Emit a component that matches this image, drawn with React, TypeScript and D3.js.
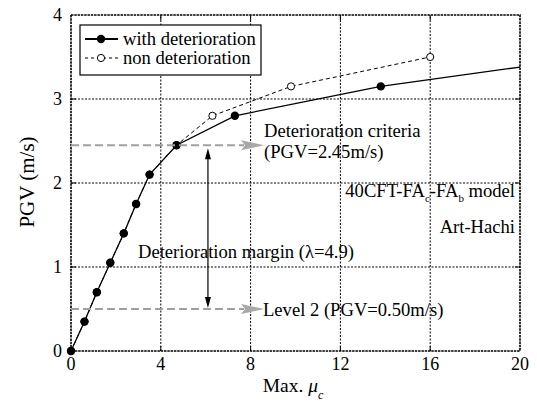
import React from "react";
import * as d3 from "d3";

// Max. ductility (mu_c) vs PGV, with and without deterioration
const muWith = [0, 0.6, 1.15, 1.75, 2.35, 2.9, 3.5, 4.7, 7.3, 13.8];
const pgvWith = [0, 0.35, 0.7, 1.05, 1.4, 1.75, 2.1, 2.45, 2.8, 3.15];
// the solid curve continues beyond the last marker to the frame edge
const muWithTail = [20];
const pgvWithTail = [3.38];

const muNon = [0, 0.6, 1.15, 1.75, 2.35, 2.9, 3.5, 4.7, 6.3, 9.8, 16.0];
const pgvNon = [0, 0.35, 0.7, 1.05, 1.4, 1.75, 2.1, 2.45, 2.8, 3.15, 3.5];

const xTicks = [0, 4, 8, 12, 16, 20];
const yTicks = [0, 1, 2, 3, 4];

const criteriaPgv = 2.45;
const level2Pgv = 0.5;
const marginMu = 6.1;
const lambda = 4.9;
const arrowEndMu = 8.6;

const W = 537;
const H = 410;
const FONT = "Liberation Serif, Times New Roman, Tinos, DejaVu Serif, serif";
const FS = 18.6;

export default function App() {
  const x = d3.scaleLinear().domain([0, 20]).range([71, 520]);
  const y = d3.scaleLinear().domain([0, 4]).range([351, 15]);

  const withPts: [number, number][] = muWith.map((m, i) => [m, pgvWith[i]]);
  const withLinePts: [number, number][] = withPts.concat(
    muWithTail.map((m, i) => [m, pgvWithTail[i]] as [number, number])
  );
  const nonPts: [number, number][] = muNon.map((m, i) => [m, pgvNon[i]]);

  const line = d3
    .line<[number, number]>()
    .x((d) => x(d[0]))
    .y((d) => y(d[1]));

  const grayArrow = (pgv: number) => {
    const yy = y(pgv);
    const x0 = x(0);
    const tip = x(arrowEndMu);
    return (
      <g>
        <line
          x1={x0}
          y1={yy}
          x2={tip - 20}
          y2={yy}
          stroke="#a0a0a0"
          strokeWidth={2}
          strokeDasharray="8,4"
        />
        <path
          d={`M${tip},${yy} L${tip - 23},${yy - 5} L${tip - 19},${yy} L${tip - 23},${yy + 5} Z`}
          fill="#a8a8a8"
        />
      </g>
    );
  };

  const mx = x(marginMu);
  const yTop = y(criteriaPgv) + 3;
  const yBot = y(level2Pgv) - 1;

  return (
    <svg
      width={W}
      height={H}
      style={{ position: "absolute", left: 0, top: 0, background: "#fff", fontFamily: FONT }}
    >
      {/* grid */}
      {xTicks.slice(1, -1).map((t) => (
        <line
          key={"gx" + t}
          x1={x(t)}
          x2={x(t)}
          y1={y(0)}
          y2={y(4)}
          stroke="#000"
          strokeWidth={1}
          strokeDasharray="2,1.5"
        />
      ))}
      {yTicks.slice(1, -1).map((t) => (
        <line
          key={"gy" + t}
          x1={x(0)}
          x2={x(20)}
          y1={y(t)}
          y2={y(t)}
          stroke="#000"
          strokeWidth={1}
          strokeDasharray="2,1.5"
        />
      ))}

      {/* inward ticks */}
      {xTicks.slice(1, -1).map((t) => (
        <g key={"tx" + t}>
          <line x1={x(t)} x2={x(t)} y1={y(0)} y2={y(0) - 5} stroke="#000" />
          <line x1={x(t)} x2={x(t)} y1={y(4)} y2={y(4) + 5} stroke="#000" />
        </g>
      ))}
      {yTicks.slice(1, -1).map((t) => (
        <g key={"ty" + t}>
          <line x1={x(0)} x2={x(0) + 5} y1={y(t)} y2={y(t)} stroke="#000" />
          <line x1={x(20)} x2={x(20) - 5} y1={y(t)} y2={y(t)} stroke="#000" />
        </g>
      ))}

      {/* frame */}
      <rect
        x={x(0)}
        y={y(4)}
        width={x(20) - x(0)}
        height={y(0) - y(4)}
        fill="none"
        stroke="#000"
        strokeWidth={1.6}
        strokeDasharray="2.5,0.8"
      />

      {/* tick labels */}
      {xTicks.map((t) => (
        <text key={"lx" + t} x={x(t)} y={370} fontSize={18} textAnchor="middle">
          {t}
        </text>
      ))}
      {yTicks.map((t) => (
        <text
          key={"ly" + t}
          x={62}
          y={y(t) + 6}
          fontSize={18}
          textAnchor="end"
        >
          {t}
        </text>
      ))}

      {/* axis titles */}
      <text x={293} y={392} fontSize={19.5} textAnchor="middle">
        Max.{" "}
        <tspan fontStyle="italic">μ</tspan>
        <tspan fontStyle="italic" fontSize={12} dy={7}>
          c
        </tspan>
      </text>
      <text
        transform={`translate(34,182) rotate(-90)`}
        fontSize={21}
        textAnchor="middle"
      >
        PGV (m/s)
      </text>

      {/* non deterioration series */}
      <path
        d={line(nonPts) || ""}
        fill="none"
        stroke="#000"
        strokeWidth={1}
        strokeDasharray="4,3"
      />
      {nonPts.map((d, i) => (
        <circle
          key={"n" + i}
          cx={x(d[0])}
          cy={y(d[1])}
          r={3.6}
          fill="#fff"
          stroke="#000"
          strokeWidth={1}
        />
      ))}

      {/* with deterioration series */}
      <path d={line(withLinePts) || ""} fill="none" stroke="#000" strokeWidth={1.3} />
      {withPts.map((d, i) => (
        <circle key={"w" + i} cx={x(d[0])} cy={y(d[1])} r={4.2} fill="#000" />
      ))}

      {/* reference levels */}
      {grayArrow(criteriaPgv)}
      {grayArrow(level2Pgv)}

      {/* deterioration margin arrow */}
      <line x1={mx} x2={mx} y1={yTop + 8} y2={yBot - 8} stroke="#000" strokeWidth={1.2} />
      <path d={`M${mx},${yTop} L${mx - 3},${yTop + 11} L${mx + 3},${yTop + 11} Z`} fill="#000" />
      <path d={`M${mx},${yBot} L${mx - 3},${yBot - 11} L${mx + 3},${yBot - 11} Z`} fill="#000" />

      {/* annotations */}
      <text x={264} y={137} fontSize={FS}>
        Deterioration criteria
      </text>
      <text x={264} y={158} fontSize={FS}>
        (PGV={criteriaPgv.toFixed(2)}m/s)
      </text>
      <text x={138} y={258} fontSize={FS}>
        Deterioration margin (λ={lambda})
      </text>
      <text x={263} y={316} fontSize={FS}>
        Level 2 (PGV={level2Pgv.toFixed(2)}m/s)
      </text>
      <text x={515} y={197} fontSize={FS} textAnchor="end">
        40CFT-FA
        <tspan fontSize={11} dy={5}>
          c
        </tspan>
        <tspan dy={-5}>-FA</tspan>
        <tspan fontSize={11} dy={5}>
          b
        </tspan>
        <tspan dy={-5}> model</tspan>
      </text>
      <text x={515} y={233} fontSize={FS} textAnchor="end">
        Art-Hachi
      </text>

      {/* legend */}
      <rect x={80} y={25} width={181} height={50} fill="#fff" stroke="#000" strokeWidth={1.2} />
      <line x1={85} x2={118} y1={39} y2={39} stroke="#000" strokeWidth={2} />
      <circle cx={101} cy={39} r={4.2} fill="#000" />
      <text x={123} y={45} fontSize={FS}>
        with deterioration
      </text>
      <line
        x1={85}
        x2={118}
        y1={58}
        y2={58}
        stroke="#000"
        strokeWidth={1}
        strokeDasharray="3,3"
      />
      <circle cx={101} cy={58} r={3.6} fill="#fff" stroke="#000" strokeWidth={1} />
      <text x={123} y={64} fontSize={FS}>
        non deterioration
      </text>
    </svg>
  );
}
